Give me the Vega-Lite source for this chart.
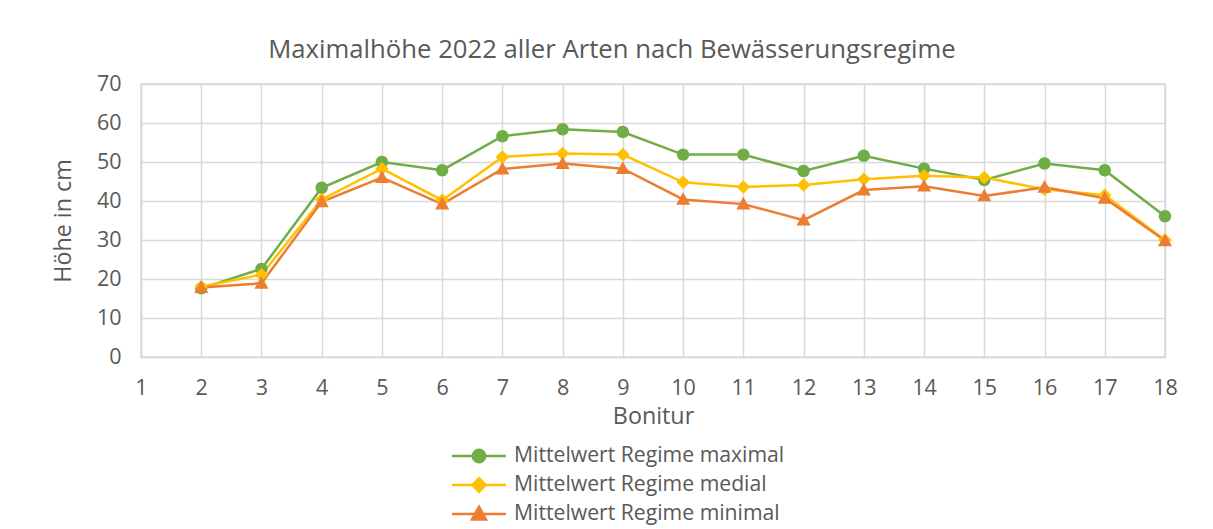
{
  "$schema": "https://vega.github.io/schema/vega-lite/v6.json",
  "width": 1024,
  "height": 273,
  "autosize": "none",
  "padding": {"left": 141, "top": 84, "right": 48, "bottom": 172},
  "background": "white",
  "title": {
    "text": "Maximalhöhe 2022 aller Arten nach Bewässerungsregime",
    "font": "Open Sans",
    "fontSize": 25.7,
    "fontWeight": "normal",
    "color": "#595959",
    "anchor": "middle",
    "dx": -41,
    "offset": 9
  },
  "config": {
    "view": {"stroke": "#D9D9D9", "strokeWidth": 1.5},
    "axis": {
      "labelFont": "Open Sans",
      "titleFont": "Open Sans",
      "labelColor": "#595959",
      "titleColor": "#595959",
      "gridColor": "#D9D9D9",
      "gridWidth": 1.5,
      "domainColor": "#D9D9D9",
      "domainWidth": 1.5,
      "ticks": false
    }
  },
  "data": {
    "values": [
      {"Bonitur": 2, "Regime": "Mittelwert Regime maximal", "Hoehe": 17.6},
      {"Bonitur": 3, "Regime": "Mittelwert Regime maximal", "Hoehe": 22.6},
      {"Bonitur": 4, "Regime": "Mittelwert Regime maximal", "Hoehe": 43.4},
      {"Bonitur": 5, "Regime": "Mittelwert Regime maximal", "Hoehe": 50.0},
      {"Bonitur": 6, "Regime": "Mittelwert Regime maximal", "Hoehe": 47.9},
      {"Bonitur": 7, "Regime": "Mittelwert Regime maximal", "Hoehe": 56.6},
      {"Bonitur": 8, "Regime": "Mittelwert Regime maximal", "Hoehe": 58.4},
      {"Bonitur": 9, "Regime": "Mittelwert Regime maximal", "Hoehe": 57.7},
      {"Bonitur": 10, "Regime": "Mittelwert Regime maximal", "Hoehe": 51.9},
      {"Bonitur": 11, "Regime": "Mittelwert Regime maximal", "Hoehe": 51.9},
      {"Bonitur": 12, "Regime": "Mittelwert Regime maximal", "Hoehe": 47.7},
      {"Bonitur": 13, "Regime": "Mittelwert Regime maximal", "Hoehe": 51.6},
      {"Bonitur": 14, "Regime": "Mittelwert Regime maximal", "Hoehe": 48.3},
      {"Bonitur": 15, "Regime": "Mittelwert Regime maximal", "Hoehe": 45.4},
      {"Bonitur": 16, "Regime": "Mittelwert Regime maximal", "Hoehe": 49.6},
      {"Bonitur": 17, "Regime": "Mittelwert Regime maximal", "Hoehe": 47.9},
      {"Bonitur": 18, "Regime": "Mittelwert Regime maximal", "Hoehe": 36.1},
      {"Bonitur": 2, "Regime": "Mittelwert Regime medial", "Hoehe": 18.0},
      {"Bonitur": 3, "Regime": "Mittelwert Regime medial", "Hoehe": 21.1},
      {"Bonitur": 4, "Regime": "Mittelwert Regime medial", "Hoehe": 40.4},
      {"Bonitur": 5, "Regime": "Mittelwert Regime medial", "Hoehe": 48.3},
      {"Bonitur": 6, "Regime": "Mittelwert Regime medial", "Hoehe": 40.2},
      {"Bonitur": 7, "Regime": "Mittelwert Regime medial", "Hoehe": 51.3},
      {"Bonitur": 8, "Regime": "Mittelwert Regime medial", "Hoehe": 52.2},
      {"Bonitur": 9, "Regime": "Mittelwert Regime medial", "Hoehe": 51.9},
      {"Bonitur": 10, "Regime": "Mittelwert Regime medial", "Hoehe": 44.8},
      {"Bonitur": 11, "Regime": "Mittelwert Regime medial", "Hoehe": 43.6},
      {"Bonitur": 12, "Regime": "Mittelwert Regime medial", "Hoehe": 44.1},
      {"Bonitur": 13, "Regime": "Mittelwert Regime medial", "Hoehe": 45.6},
      {"Bonitur": 14, "Regime": "Mittelwert Regime medial", "Hoehe": 46.5},
      {"Bonitur": 15, "Regime": "Mittelwert Regime medial", "Hoehe": 46.0},
      {"Bonitur": 16, "Regime": "Mittelwert Regime medial", "Hoehe": 43.0},
      {"Bonitur": 17, "Regime": "Mittelwert Regime medial", "Hoehe": 41.5},
      {"Bonitur": 18, "Regime": "Mittelwert Regime medial", "Hoehe": 30.0},
      {"Bonitur": 2, "Regime": "Mittelwert Regime minimal", "Hoehe": 17.8},
      {"Bonitur": 3, "Regime": "Mittelwert Regime minimal", "Hoehe": 18.9},
      {"Bonitur": 4, "Regime": "Mittelwert Regime minimal", "Hoehe": 39.8},
      {"Bonitur": 5, "Regime": "Mittelwert Regime minimal", "Hoehe": 46.0},
      {"Bonitur": 6, "Regime": "Mittelwert Regime minimal", "Hoehe": 39.2},
      {"Bonitur": 7, "Regime": "Mittelwert Regime minimal", "Hoehe": 48.2},
      {"Bonitur": 8, "Regime": "Mittelwert Regime minimal", "Hoehe": 49.6},
      {"Bonitur": 9, "Regime": "Mittelwert Regime minimal", "Hoehe": 48.3},
      {"Bonitur": 10, "Regime": "Mittelwert Regime minimal", "Hoehe": 40.4},
      {"Bonitur": 11, "Regime": "Mittelwert Regime minimal", "Hoehe": 39.2},
      {"Bonitur": 12, "Regime": "Mittelwert Regime minimal", "Hoehe": 35.1},
      {"Bonitur": 13, "Regime": "Mittelwert Regime minimal", "Hoehe": 42.8},
      {"Bonitur": 14, "Regime": "Mittelwert Regime minimal", "Hoehe": 43.8},
      {"Bonitur": 15, "Regime": "Mittelwert Regime minimal", "Hoehe": 41.3},
      {"Bonitur": 16, "Regime": "Mittelwert Regime minimal", "Hoehe": 43.5},
      {"Bonitur": 17, "Regime": "Mittelwert Regime minimal", "Hoehe": 40.7},
      {"Bonitur": 18, "Regime": "Mittelwert Regime minimal", "Hoehe": 29.8}
    ]
  },
  "encoding": {
    "x": {
      "field": "Bonitur",
      "type": "quantitative",
      "scale": {"domain": [1, 18], "nice": false, "zero": false},
      "axis": {
        "values": [1,2,3,4,5,6,7,8,9,10,11,12,13,14,15,16,17,18],
        "labelFontSize": 21.5,
        "labelPadding": 20,
        "title": "Bonitur",
        "titleFontSize": 23.3,
        "titleFontWeight": "normal",
        "titlePadding": 7,
        "labelFlush": false
      }
    },
    "y": {
      "field": "Hoehe",
      "type": "quantitative",
      "scale": {"domain": [0, 70], "nice": false},
      "axis": {
        "values": [0,10,20,30,40,50,60,70],
        "labelFontSize": 21.5,
        "labelPadding": 20,
        "title": "Höhe in cm",
        "titleFontSize": 23.3,
        "titleFontWeight": "normal",
        "titlePadding": 21,
        "domain": true
      }
    },
    "color": {
      "field": "Regime",
      "type": "nominal",
      "scale": {
        "domain": ["Mittelwert Regime maximal", "Mittelwert Regime medial", "Mittelwert Regime minimal"],
        "range": ["#70AD47", "#FFC000", "#ED7D31"]
      },
      "legend": {
        "title": null,
        "orient": "none",
        "legendX": 323,
        "legendY": 357,
        "symbolSize": 729,
        "symbolStrokeWidth": 2.5,
        "labelFont": "Open Sans",
        "labelFontSize": 21.2,
        "labelColor": "#595959",
        "labelOffset": 20,
        "labelLimit": 500,
        "rowPadding": 2,
        "encode": {
          "symbols": {
            "update": {
              "stroke": {"scale": "color", "field": "value"},
              "fill": {"scale": "color", "field": "value"},
              "strokeWidth": {"value": 2.5},
              "opacity": {"value": 1}
            }
          }
        }
      }
    }
  },
  "layer": [
    {
      "mark": {"type": "line", "strokeWidth": 2.5},
      "encoding": {"detail": {"field": "Regime"}}
    },
    {
      "mark": {"type": "point", "filled": true, "opacity": 1, "size": 729},
      "encoding": {
        "shape": {
          "field": "Regime",
          "type": "nominal",
          "scale": {
            "domain": ["Mittelwert Regime maximal", "Mittelwert Regime medial", "Mittelwert Regime minimal"],
            "range": [
              "M-2,0L2,0M0.46,0A0.46,0.46,0,1,1,-0.46,0A0.46,0.46,0,1,1,0.46,0Z",
              "M-2,0L2,0M0,-0.5L0.5,0L0,0.5L-0.5,0Z",
              "M-2,0L2,0M0,-0.54L0.52,0.4L-0.52,0.4Z"
            ]
          }
        }
      }
    }
  ]
}
